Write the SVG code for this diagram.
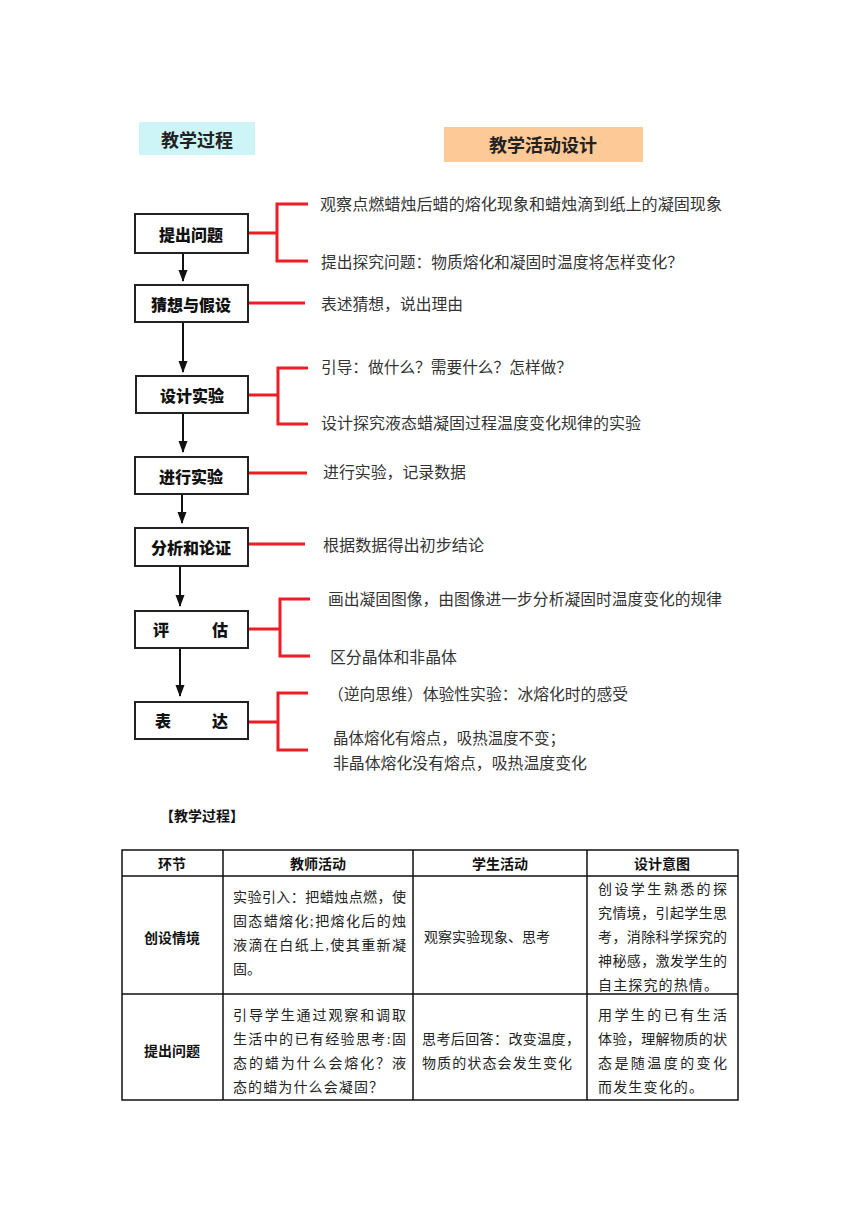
<svg xmlns="http://www.w3.org/2000/svg" width="860" height="1216" viewBox="0 0 860 1216">
<style>
.hdr{font-family:"Noto Sans CJK SC",sans-serif;font-weight:bold;font-size:18px;fill:#222;text-anchor:middle;dominant-baseline:central}
.box rect{fill:#fff;stroke:#222;stroke-width:2}
.box text{font-family:"Noto Sans CJK SC",sans-serif;font-weight:900;font-size:16px;fill:#111;text-anchor:middle;dominant-baseline:central}
.red{stroke:#ee1c24;stroke-width:3;fill:none}
.arr{stroke:#111;stroke-width:2;fill:none;marker-end:url(#ah)}
.d{font-family:"Noto Sans CJK SC",sans-serif;font-size:15.5px;fill:#333;dominant-baseline:central}
.th{font-family:"Noto Sans CJK SC",sans-serif;font-weight:bold;font-size:14px;fill:#111;text-anchor:middle;dominant-baseline:central}
.tc{font-family:"Liberation Serif","Noto Sans CJK SC",serif;font-size:14px;fill:#222;dominant-baseline:central}
.grid{stroke:#111;stroke-width:1.5;fill:none}
</style>
<defs>
<marker id="ah" markerWidth="12" markerHeight="10" refX="11" refY="5" orient="auto" markerUnits="userSpaceOnUse" viewBox="0 0 12 10"><path d="M0,0.5 L12,5 L0,9.5 Z" fill="#111"/></marker>
</defs>
<rect width="860" height="1216" fill="#fff"/>
<g id="title-left"><rect x="139" y="122" width="116" height="33" fill="#cdf5f8"/><text class="hdr" x="197" y="139">教学过程</text></g>
<g id="title-right"><rect x="444" y="127" width="199" height="35" fill="#fdc997"/><text class="hdr" x="543" y="144">教学活动设计</text></g>

<g id="connectors">
<line class="arr" x1="183" y1="254" x2="183" y2="281"/>
<line class="arr" x1="183" y1="323" x2="183" y2="372"/>
<line class="arr" x1="183" y1="414" x2="183" y2="452"/>
<line class="arr" x1="182" y1="495" x2="182" y2="523"/>
<line class="arr" x1="180" y1="567" x2="180" y2="606"/>
<line class="arr" x1="180" y1="649" x2="180" y2="696"/>
<path class="red" d="M248,233 H277 M308,204 H277 V261 H308"/>
<path class="red" d="M248,303 H305"/>
<path class="red" d="M248,395 H278 M308,368 H278 V424 H308"/>
<path class="red" d="M249,473 H307"/>
<path class="red" d="M248,544 H305"/>
<path class="red" d="M248,629 H280 M310,599 H280 V656 H310"/>
<path class="red" d="M248,722 H278 M308,693 H278 V750 H308"/>
</g>

<g id="n1" class="box"><rect x="135" y="214" width="113" height="39"/><text x="191" y="234">提出问题</text></g>
<g id="n2" class="box"><rect x="135" y="285" width="113" height="37"/><text x="191" y="304">猜想与假设</text></g>
<g id="n3" class="box"><rect x="136" y="376" width="112" height="37"/><text x="192" y="395">设计实验</text></g>
<g id="n4" class="box"><rect x="135" y="457" width="113" height="37"/><text x="191" y="476">进行实验</text></g>
<g id="n5" class="box"><rect x="135" y="528" width="113" height="38"/><text x="191" y="547">分析和论证</text></g>
<g id="n6" class="box"><rect x="135" y="611" width="113" height="37"/><text x="161" y="629">评</text><text x="220" y="629">估</text></g>
<g id="n7" class="box"><rect x="135" y="702" width="113" height="37"/><text x="163" y="720">表</text><text x="220" y="720">达</text></g>

<g id="activities">
<text class="d" x="320" y="203" textLength="402" lengthAdjust="spacingAndGlyphs">观察点燃蜡烛后蜡的熔化现象和蜡烛滴到纸上的凝固现象</text>
<text class="d" x="321" y="261" textLength="362" lengthAdjust="spacingAndGlyphs">提出探究问题：物质熔化和凝固时温度将怎样变化？</text>
<text class="d" x="321" y="303" textLength="142" lengthAdjust="spacingAndGlyphs">表述猜想，说出理由</text>
<text class="d" x="321" y="366" textLength="251" lengthAdjust="spacingAndGlyphs">引导：做什么？需要什么？怎样做？</text>
<text class="d" x="321" y="422" textLength="320" lengthAdjust="spacingAndGlyphs">设计探究液态蜡凝固过程温度变化规律的实验</text>
<text class="d" x="323" y="471" textLength="143" lengthAdjust="spacingAndGlyphs">进行实验，记录数据</text>
<text class="d" x="323" y="544" textLength="161" lengthAdjust="spacingAndGlyphs">根据数据得出初步结论</text>
<text class="d" x="328" y="598" textLength="394" lengthAdjust="spacingAndGlyphs">画出凝固图像，由图像进一步分析凝固时温度变化的规律</text>
<text class="d" x="330" y="656" textLength="127" lengthAdjust="spacingAndGlyphs">区分晶体和非晶体</text>
<text class="d" x="328" y="693" textLength="300" lengthAdjust="spacingAndGlyphs">（逆向思维）体验性实验：冰熔化时的感受</text>
<text class="d" x="333" y="737" textLength="232" lengthAdjust="spacingAndGlyphs">晶体熔化有熔点，吸热温度不变；</text>
<text class="d" x="333" y="762" textLength="254" lengthAdjust="spacingAndGlyphs">非晶体熔化没有熔点，吸热温度变化</text>
</g>

<text x="160" y="815" font-family="Noto Sans CJK SC, sans-serif" font-weight="bold" font-size="14" fill="#111" dominant-baseline="central">【教学过程】</text>

<g id="table">
<rect class="grid" x="122" y="850" width="616" height="250"/>
<path class="grid" d="M122,876 H738 M122,994 H738 M223,850 V1100 M413,850 V1100 M587,850 V1100"/>
<text class="th" x="172" y="863">环节</text>
<text class="th" x="318" y="863">教师活动</text>
<text class="th" x="500" y="863">学生活动</text>
<text class="th" x="662" y="863">设计意图</text>

<text class="th" x="172" y="937">创设情境</text>
<text class="tc" x="233" y="897" textLength="173" lengthAdjust="spacing">实验引入：把蜡烛点燃，使</text>
<text class="tc" x="233" y="921" textLength="173" lengthAdjust="spacing">固态蜡熔化;把熔化后的烛</text>
<text class="tc" x="233" y="945" textLength="173" lengthAdjust="spacing">液滴在白纸上,使其重新凝</text>
<text class="tc" x="233" y="969">固。</text>
<text class="tc" x="424" y="937">观察实验现象、思考</text>
<text class="tc" x="598" y="889" textLength="129" lengthAdjust="spacing">创设学生熟悉的探</text>
<text class="tc" x="598" y="913" textLength="129" lengthAdjust="spacing">究情境，引起学生思</text>
<text class="tc" x="598" y="937" textLength="129" lengthAdjust="spacing">考，消除科学探究的</text>
<text class="tc" x="598" y="961" textLength="129" lengthAdjust="spacing">神秘感，激发学生的</text>
<text class="tc" x="598" y="985" textLength="120" lengthAdjust="spacing">自主探究的热情。</text>

<text class="th" x="172" y="1050">提出问题</text>
<text class="tc" x="233" y="1015" textLength="173" lengthAdjust="spacing">引导学生通过观察和调取</text>
<text class="tc" x="233" y="1039" textLength="173" lengthAdjust="spacing">生活中的已有经验思考:固</text>
<text class="tc" x="233" y="1063" textLength="173" lengthAdjust="spacing">态的蜡为什么会熔化？液</text>
<text class="tc" x="233" y="1087" textLength="150" lengthAdjust="spacing">态的蜡为什么会凝固？</text>
<text class="tc" x="422" y="1039" textLength="158" lengthAdjust="spacing">思考后回答：改变温度，</text>
<text class="tc" x="422" y="1063" textLength="150" lengthAdjust="spacing">物质的状态会发生变化</text>
<text class="tc" x="598" y="1015" textLength="129" lengthAdjust="spacing">用学生的已有生活</text>
<text class="tc" x="598" y="1039" textLength="129" lengthAdjust="spacing">体验，理解物质的状</text>
<text class="tc" x="598" y="1063" textLength="129" lengthAdjust="spacing">态是随温度的变化</text>
<text class="tc" x="598" y="1087" textLength="105" lengthAdjust="spacing">而发生变化的。</text>
</g>
</svg>
